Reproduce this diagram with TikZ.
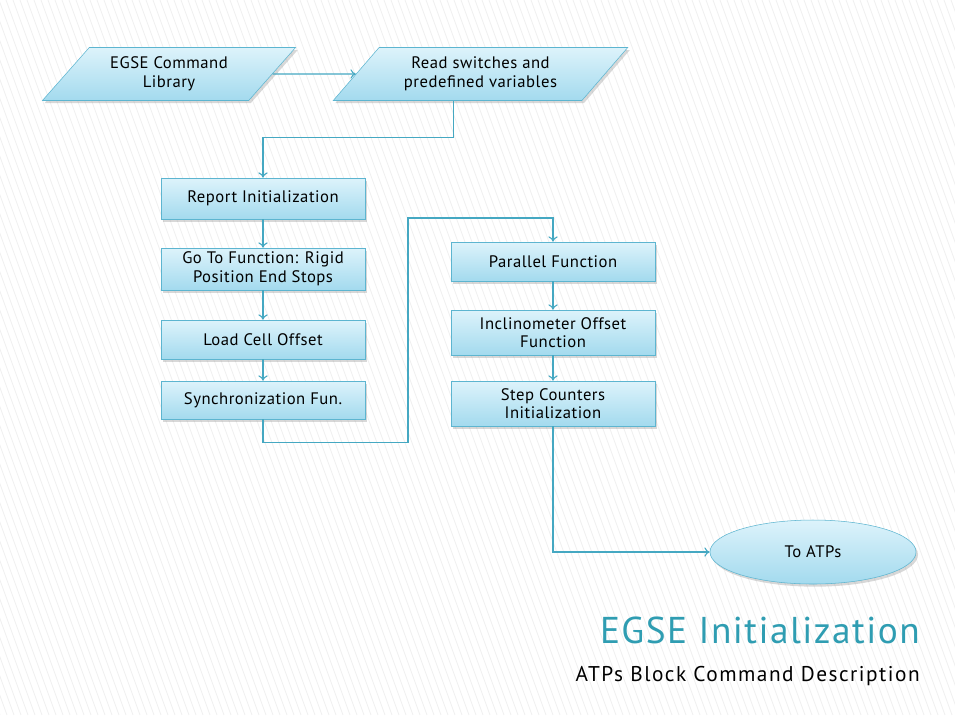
\documentclass[tikz,border=0pt]{standalone}
\usepackage{fontspec}
\setmainfont{PT Sans}
\usetikzlibrary{shapes.geometric, shadows, arrows.meta}

\definecolor{boxtop}{HTML}{DDF3FB}
\definecolor{boxbot}{HTML}{A3DAEE}
\definecolor{boxline}{HTML}{5DB5D0}
\definecolor{wire}{HTML}{45A8C2}
\definecolor{titleblue}{HTML}{2F9DB2}
\definecolor{stripe}{HTML}{F0F0F0}

\tikzset{
  block/.style = {rectangle, draw = boxline, top color = boxtop, bottom color = boxbot,
    drop shadow = {shadow xshift = 1.5pt, shadow yshift = -2pt, opacity = 0.3},
    minimum width = 153pt, align = center, inner sep = 1pt,
    font = \fontsize{12.5}{14}\selectfont\addfontfeatures{LetterSpace = 3}},
  data/.style = {block, trapezium, trapezium left angle = 46, trapezium right angle = 134,
    trapezium stretches = true, minimum width = 190pt, minimum height = 39.75pt},
  ending/.style = {block, ellipse, minimum width = 154.5pt, minimum height = 48pt},
  conn/.style = {draw = wire, line width = 0.8pt, -{To[length = 4pt, width = 7pt]}}
}

\begin{document}
\begin{tikzpicture}[x = 0.75pt, y = -0.75pt]
  % background
  \fill[white] (0, 0) rectangle (955, 715);
  \begin{scope}
    \clip (0, 0) rectangle (955, 715);
    \foreach \s in {-260, -253, ..., 960}
      \draw[stripe, line width = 0.6pt] (\s, 0) -- ++(260, 715);
  \end{scope}
  \useasboundingbox (0, 0) rectangle (955, 715);

  % input blocks
  \node[data] (Library) at (169, 74) {EGSE Command\\Library};
  \node[data, minimum width = 221pt] (Read) at (480.5, 74) {Read switches and\\predefined variables};

  % left column
  \node[block, minimum height = 30.75pt] (Report) at (263, 198.5) {Report Initialization};
  \node[block, minimum height = 31.5pt] (Go To) at (263, 269) {Go To Function: Rigid\\Position End Stops};
  \node[block, minimum height = 29.25pt] (Load Cell) at (263, 339.5) {Load Cell Offset};
  \node[block, minimum height = 28.5pt] (Sync) at (263, 400) {Synchronization Fun.};

  % right column
  \node[block, minimum height = 29.25pt] (Parallel) at (553, 261.5) {Parallel Function};
  \node[block, minimum height = 33.75pt] (Inclinometer) at (553, 332.5) {Inclinometer Offset\\Function};
  \node[block, minimum height = 33.75pt] (Step Counters) at (553, 403.5) {Step Counters\\Initialization};

  \node[ending] (ATPs) at (813, 552) {To ATPs};
  \coordinate (Jog) at (408, 218);

  % connectors
  \draw[conn] (Library) -- (Read);
  \draw[conn] ([xshift = -20.25pt]Read.south) -- ++(0, 37) -| (Report.north);
  \draw[conn] (Report) -- (Go To);
  \draw[conn] (Go To) -- (Load Cell);
  \draw[conn] (Load Cell) -- (Sync);
  \draw[conn] (Sync.south) -- ++(0, 23) -| (Jog) -| (Parallel.north);
  \draw[conn] (Parallel) -- (Inclinometer);
  \draw[conn] (Inclinometer) -- (Step Counters);
  \draw[conn] (Step Counters.south) |- (ATPs.west);

  % titles
  \node[anchor = base east, inner sep = 0pt, text = titleblue,
    font = \fontsize{28}{32}\selectfont\addfontfeatures{LetterSpace = 4}]
    (Title) at (920, 643) {EGSE Initialization};
  \node[anchor = base east, inner sep = 0pt,
    font = \fontsize{16}{19}\selectfont\addfontfeatures{LetterSpace = 7}]
    (Subtitle) at (920, 681) {ATPs Block Command Description};
\end{tikzpicture}
\end{document}
